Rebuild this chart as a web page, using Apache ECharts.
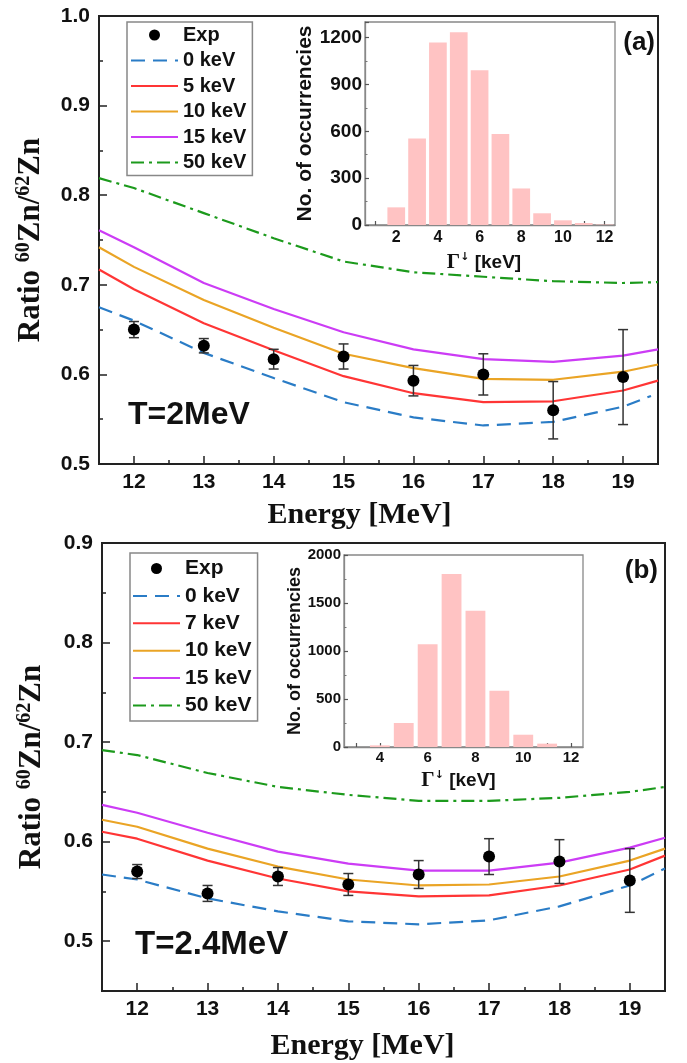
<!DOCTYPE html>
<html><head><meta charset="utf-8">
<script src="https://cdn.jsdelivr.net/npm/echarts@6/dist/echarts.min.js"></script>
<style>html,body{margin:0;padding:0;background:#fff}#c{width:687px;height:1063px}</style>
</head><body><div id="c"></div>
<script>
// ---------- data ----------
const energies = [12, 13, 14, 15, 16, 17, 18, 19];
const curveX = [11.5, 12, 13, 14, 15, 16, 17, 18, 19, 19.5];
const blueXA = [11.5, 12, 13, 14, 15, 16, 17, 18, 19, 19.4];

// tick labels
const xTicks = [12, 13, 14, 15, 16, 17, 18, 19];
const yTicksA = [0.5, 0.6, 0.7, 0.8, 0.9, 1.0];
const yTicksB = [0.5, 0.6, 0.7, 0.8, 0.9];

// panel (a) T=2MeV
const expA = [0.650, 0.632, 0.617, 0.620, 0.593, 0.600, 0.560, 0.597];
const errA = [0.009, 0.008, 0.011, 0.014, 0.017, 0.023, 0.032, 0.053];
const a0  = [0.675, 0.660, 0.624, 0.596, 0.569, 0.552, 0.543, 0.547, 0.564, 0.576];
const a5  = [0.717, 0.695, 0.657, 0.627, 0.598, 0.579, 0.569, 0.570, 0.582, 0.593];
const a10 = [0.742, 0.720, 0.683, 0.652, 0.623, 0.607, 0.595, 0.594, 0.603, 0.611];
const a15 = [0.761, 0.742, 0.702, 0.673, 0.647, 0.628, 0.617, 0.614, 0.621, 0.628];
const a50 = [0.819, 0.808, 0.780, 0.752, 0.726, 0.714, 0.709, 0.704, 0.702, 0.703];

// panel (b) T=2.4MeV
const expB = [0.570, 0.548, 0.565, 0.557, 0.567, 0.585, 0.580, 0.561];
const errB = [0.007, 0.008, 0.009, 0.011, 0.014, 0.018, 0.022, 0.032];
const b0  = [0.567, 0.562, 0.543, 0.530, 0.520, 0.517, 0.521, 0.535, 0.556, 0.573];
const b7  = [0.610, 0.603, 0.581, 0.563, 0.550, 0.545, 0.546, 0.556, 0.572, 0.586];
const b10 = [0.622, 0.615, 0.593, 0.575, 0.562, 0.556, 0.557, 0.565, 0.581, 0.593];
const b15 = [0.637, 0.629, 0.609, 0.590, 0.578, 0.571, 0.571, 0.579, 0.594, 0.604];
const b50 = [0.692, 0.687, 0.669, 0.655, 0.647, 0.641, 0.641, 0.644, 0.650, 0.655];

// insets: histograms of Gamma-down
const gammaA  = ['1','2','3','4','5','6','7','8','9','10','11','12'];
const countsA = [0, 113, 554, 1168, 1234, 991, 582, 234, 75, 30, 13, 3];
const gammaB  = ['3','4','5','6','7','8','9','10','11','12'];
const countsB = [0, 17, 250, 1071, 1802, 1418, 586, 128, 35, 0];

const legendA = ['Exp', '0 keV', '5 keV', '10 keV', '15 keV', '50 keV'];
const legendB = ['Exp', '0 keV', '7 keV', '10 keV', '15 keV', '50 keV'];

// ---------- styling ----------
const SANS = 'Liberation Sans, Arial, sans-serif';
const SERIF = 'Liberation Serif, Times New Roman, serif';
const INK = '#111';
const C = {blue:'#2a7cc6', red:'#ff3535', orange:'#eaa425', magenta:'#cc3cf5', green:'#1c9a1c'};

const pairs = (xs, ys) => xs.map((x, i) => [x, ys[i]]);

function lineSeries(name, xs, ys, color, type, xi, yi) {
  return {type:'line', name, xAxisIndex:xi, yAxisIndex:yi, data:pairs(xs, ys), symbol:'none', showSymbol:false,
    lineStyle:{color, width:2.2, type}, itemStyle:{color}, z:2, silent:true};
}
function errSeries(xs, ys, es, xi, yi) {
  return {type:'custom', xAxisIndex:xi, yAxisIndex:yi, data:xs.map((x,i)=>[x, ys[i], es[i]]),
    encode:{x:0, y:1}, z:3, silent:true,
    renderItem:(params, api) => {
      const x = api.value(0), y = api.value(1), e = api.value(2);
      const p1 = api.coord([x, y + e]), p2 = api.coord([x, y - e]);
      const w = 5, st = {stroke:'#333', lineWidth:1.5};
      return {type:'group', children:[
        {type:'line', shape:{x1:p1[0], y1:p1[1], x2:p2[0], y2:p2[1]}, style:st},
        {type:'line', shape:{x1:p1[0]-w, y1:p1[1], x2:p1[0]+w, y2:p1[1]}, style:st},
        {type:'line', shape:{x1:p2[0]-w, y1:p2[1], x2:p2[0]+w, y2:p2[1]}, style:st}
      ]};
    }};
}
function expSeries(xs, ys, xi, yi) {
  return {type:'scatter', name:'Exp', xAxisIndex:xi, yAxisIndex:yi, data:pairs(xs, ys),
    symbol:'circle', symbolSize:12, itemStyle:{color:'#000', opacity:1}, z:4, silent:true};
}

const mainLabel = {fontFamily:SANS, fontWeight:'bold', fontSize:21, color:INK};
const mainLine = {show:true, onZero:false, lineStyle:{color:'#222', width:2}};
const mainTickStyle = {show:true, inside:true, length:8, lineStyle:{color:'#222', width:1.5}};
const minorTickStyle = {show:true, inside:true, length:4, lineStyle:{color:'#222', width:1.5}};

function mainX(gi, nameGap, padRight) {
  return [{
    type:'value', gridIndex:gi, min:11.5, max:19.5, position:'bottom',
    axisLine:mainLine, axisTick:Object.assign({customValues:xTicks}, mainTickStyle), splitLine:{show:false},
    axisLabel:Object.assign({margin:8, customValues:xTicks, formatter:v => String(v)}, mainLabel),
    name:'Energy [MeV]', nameLocation:'middle', nameGap:nameGap,
    nameTextStyle:{fontFamily:SERIF, fontWeight:'bold', fontSize:30, color:INK, padding:[0, padRight, 0, 0]}
  }, {
    type:'value', gridIndex:gi, min:11.5, max:19.5, interval:0.5, position:'bottom',
    axisLine:{show:false, onZero:false}, axisTick:minorTickStyle, axisLabel:{show:false}, splitLine:{show:false}
  }];
}
function mainY(gi, min, max, ticks, nameGap) {
  return [{
    type:'value', gridIndex:gi, min:min, max:max, position:'left',
    axisLine:mainLine, axisTick:Object.assign({customValues:ticks}, mainTickStyle), splitLine:{show:false},
    axisLabel:Object.assign({margin:9, customValues:ticks, formatter:v => v.toFixed(1)}, mainLabel),
    name:'{t|Ratio }{s|60}{t|Zn/}{s|62}{t|Zn}', nameLocation:'middle', nameGap:nameGap,
    nameTextStyle:{rich:{
      t:{fontFamily:SERIF, fontWeight:'bold', fontSize:31, color:INK, lineHeight:34},
      s:{fontFamily:SERIF, fontWeight:'bold', fontSize:20, color:INK, verticalAlign:'top', lineHeight:22}
    }}
  }, {
    type:'value', gridIndex:gi, min:min, max:max, interval:0.05, position:'left',
    axisLine:{show:false, onZero:false}, axisTick:minorTickStyle, axisLabel:{show:false}, splitLine:{show:false}
  }];
}

function insetX(gi, cats, fs, labelGap, nameGap, pad) {
  return {type:'category', gridIndex:gi, data:cats, boundaryGap:true,
    axisLine:{show:true, lineStyle:{color:'#888', width:1.3}},
    axisTick:{show:true, inside:true, alignWithLabel:true, interval:0, length:4, lineStyle:{color:'#555', width:1.2}},
    axisLabel:{interval:(i, v) => Number(v) % 2 === 0, fontFamily:SANS, fontWeight:'bold', fontSize:fs, color:INK, margin:labelGap},
    splitLine:{show:false},
    name:'{g|Γ}{a|↓}{t| [keV]}', nameLocation:'middle', nameGap:nameGap,
    nameTextStyle:{padding:[0, pad, 0, 0], rich:{
      g:{fontFamily:SERIF, fontWeight:'bold', fontSize:21, color:INK, lineHeight:22},
      a:{fontFamily:'DejaVu Sans', fontWeight:'bold', fontSize:11, color:INK, verticalAlign:'top', lineHeight:12},
      t:{fontFamily:SANS, fontWeight:'bold', fontSize:19, color:INK, lineHeight:22}
    }}};
}
function insetY(gi, max, interval, fs, nameFs, nameGap) {
  return {type:'value', gridIndex:gi, min:0, max:max, interval:interval,
    axisLine:{show:true, lineStyle:{color:'#888', width:1.3}},
    axisTick:{show:true, inside:true, length:4, lineStyle:{color:'#555', width:1.2}},
    minorTick:{show:true, splitNumber:2, length:2.5, lineStyle:{color:'#777', width:1}},
    splitLine:{show:false},
    axisLabel:{fontFamily:SANS, fontWeight:'bold', fontSize:fs, color:INK, margin:3,
      showMaxLabel: max % interval === 0, formatter:v => String(v)},
    name:'No. of occurrencies', nameLocation:'middle', nameGap:nameGap,
    nameTextStyle:{fontFamily:SANS, fontWeight:'bold', fontSize:nameFs, color:INK}};
}

const legendBase = {orient:'vertical', itemWidth:47, itemHeight:11, selectedMode:false,
  borderColor:'#888', borderWidth:1.5, backgroundColor:'#fff'};
const legendItems = names => names.map(n => n === 'Exp' ? {name:n} : {name:n, itemStyle:{opacity:0}});

const option = {
  animation:false,
  backgroundColor:'#fff',
  textStyle:{fontFamily:SANS},
  grid:[
    {left:99, top:16, width:559, height:448, show:true, borderColor:'#222', borderWidth:2, backgroundColor:'transparent'},
    {left:365, top:22, width:250, height:203, show:true, borderColor:'#888', borderWidth:1.3, backgroundColor:'#fff'},
    {left:102, top:543, width:563, height:448, show:true, borderColor:'#222', borderWidth:2, backgroundColor:'transparent'},
    {left:344, top:555, width:239, height:192, show:true, borderColor:'#888', borderWidth:1.3, backgroundColor:'#fff'}
  ],
  // xAxis indices: 0 main(a), 1 minor(a), 2 inset(a), 3 main(b), 4 minor(b), 5 inset(b)
  xAxis:[
    ...mainX(0, 36, 38),
    insetX(1, gammaA, 16, 5, 27, 12),
    ...mainX(2, 40, 42),
    insetX(3, gammaB, 15, 3, 23, 10)
  ],
  // yAxis indices: 0 main(a), 1 minor(a), 2 inset(a), 3 main(b), 4 minor(b), 5 inset(b)
  yAxis:[
    ...mainY(0, 0.5, 1.0, yTicksA, 51),
    insetY(1, 1300, 300, 19, 21, 40),
    ...mainY(2, 0.45, 0.9, yTicksB, 53),
    insetY(3, 2000, 500, 15, 18, 33)
  ],
  legend:[
    Object.assign({left:127, top:22, itemGap:5.5, padding:[3,6,3,3], data:legendItems(legendA),
      textStyle:{fontFamily:SANS, fontWeight:'bold', fontSize:20, color:INK, lineHeight:20}}, legendBase),
    Object.assign({left:130, top:553, itemGap:6.4, padding:[5,6,5,2], data:legendItems(legendB),
      textStyle:{fontFamily:SANS, fontWeight:'bold', fontSize:21, color:INK, lineHeight:20}}, legendBase)
  ],
  graphic:[
    {type:'text', left:128, top:399, style:{text:'T=2MeV', font:'bold 32px ' + SANS, fill:INK}},
    {type:'text', left:135, top:928, style:{text:'T=2.4MeV', font:'bold 33px ' + SANS, fill:INK}},
    {type:'text', right:32, top:30, style:{text:'(a)', font:'bold 26px ' + SANS, fill:INK}},
    {type:'text', right:29, top:558, style:{text:'(b)', font:'bold 26px ' + SANS, fill:INK}}
  ],
  series:[
    lineSeries('0 keV', blueXA, a0, C.blue, [14, 8], 0, 0),
    lineSeries('5 keV', curveX, a5, C.red, 'solid', 0, 0),
    lineSeries('10 keV', curveX, a10, C.orange, 'solid', 0, 0),
    lineSeries('15 keV', curveX, a15, C.magenta, 'solid', 0, 0),
    lineSeries('50 keV', curveX, a50, C.green, [13, 5, 3, 5], 0, 0),
    errSeries(energies, expA, errA, 0, 0),
    expSeries(energies, expA, 0, 0),
    {type:'bar', xAxisIndex:2, yAxisIndex:2, data:countsA, barCategoryGap:'15%',
      itemStyle:{color:'#ffc3c3'}, silent:true},
    lineSeries('0 keV', curveX, b0, C.blue, [14, 8], 3, 3),
    lineSeries('7 keV', curveX, b7, C.red, 'solid', 3, 3),
    lineSeries('10 keV', curveX, b10, C.orange, 'solid', 3, 3),
    lineSeries('15 keV', curveX, b15, C.magenta, 'solid', 3, 3),
    lineSeries('50 keV', curveX, b50, C.green, [13, 5, 3, 5], 3, 3),
    errSeries(energies, expB, errB, 3, 3),
    expSeries(energies, expB, 3, 3),
    {type:'bar', xAxisIndex:5, yAxisIndex:5, data:countsB, barCategoryGap:'17%',
      itemStyle:{color:'#ffc3c3'}, silent:true}
  ]
};
const chart = echarts.init(document.getElementById('c'), null, {renderer:'canvas'});
chart.setOption(option);
</script></body></html>
